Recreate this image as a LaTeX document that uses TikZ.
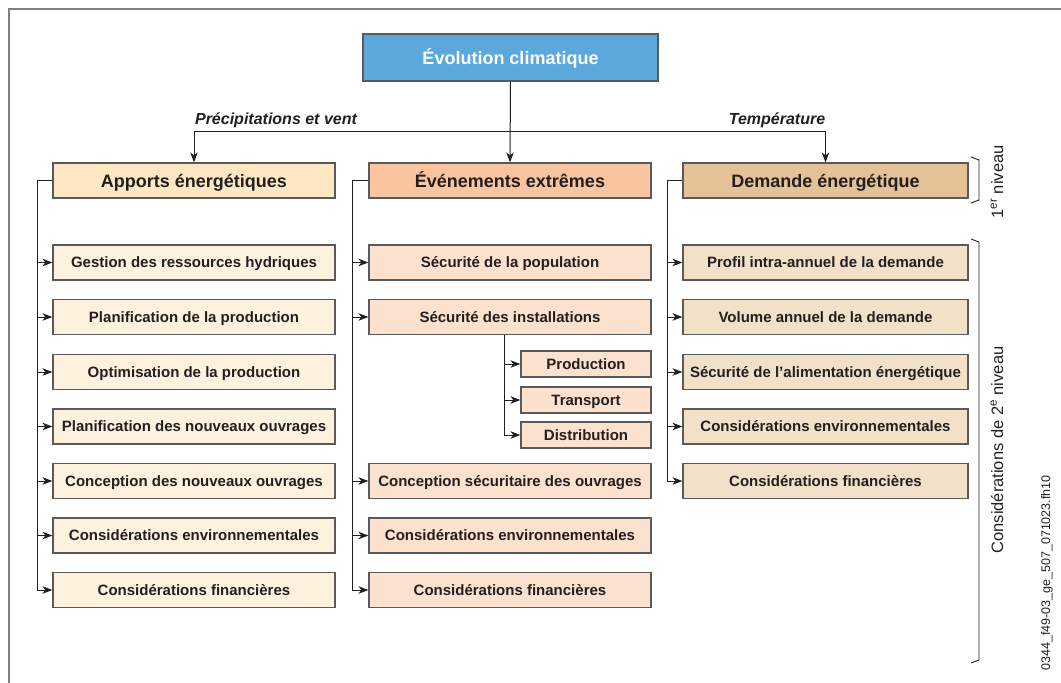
\documentclass[tikz,border=0pt]{standalone}
\usepackage{fontspec}
\setmainfont{Liberation Sans}
\usetikzlibrary{arrows.meta}
\definecolor{ink}{HTML}{231F20}
\definecolor{edge}{HTML}{5A5A5A}
\definecolor{framegray}{HTML}{808080}
\definecolor{topblue}{HTML}{5BA8DC}
\definecolor{appA}{HTML}{FDE8C3}
\definecolor{appB}{HTML}{FEF2DF}
\definecolor{evtA}{HTML}{F9C4A0}
\definecolor{evtB}{HTML}{FDE1CF}
\definecolor{demA}{HTML}{E4C197}
\definecolor{demB}{HTML}{F2E0C9}
\begin{document}
\begin{tikzpicture}[x=1pt,y=-1pt,
    every node/.style={text=ink, inner sep=0pt},
    box/.style={draw=edge, line width=1.2pt, minimum height=35pt, align=center,
      text height=10.8pt, text depth=0pt,
      font=\fontsize{15}{17}\selectfont\bfseries},
    lvlone/.style={box, minimum width=282pt, text height=13pt,
      font=\fontsize{18}{20}\selectfont\bfseries},
    lvltwo/.style={box, minimum width=282pt},
    subbox/.style={box, minimum width=130pt, minimum height=26pt},
    link/.style={draw=ink, line width=1pt},
    arr/.style={link, -{Stealth[length=10pt,width=7.5pt,inset=3pt]}},
    theme/.style={font=\fontsize{16}{18}\selectfont\bfseries\itshape},
    side/.style={rotate=90, font=\fontsize{16.5}{18}\selectfont}]
  \useasboundingbox (0,0) rectangle (1061,683);
  \draw[framegray, line width=2pt] (1061,8.5) -- (8.5,8.5) -- (8.5,683);

  % top
  \node[box, fill=topblue, minimum width=295pt, minimum height=47pt, text=white,
    text height=13pt, font=\fontsize{18}{20}\selectfont\bfseries] (clim) at (510.5,57.5) {Évolution climatique};

  % 1er niveau
  \node[lvlone, fill=appA] (app) at (194,180.5) {Apports énergétiques};
  \node[lvlone, fill=evtA] (evt) at (510,180.5) {Événements extrêmes};
  \node[lvlone, fill=demA, minimum width=285pt] (dem) at (825.5,180.5) {Demande énergétique};

  \coordinate (hub) at (510.5,131);
  \coordinate (hL) at (app.north |- hub);
  \coordinate (hR) at (dem.north |- hub);
  \draw[arr] (clim.south) -- (evt.north);
  \draw[arr] (hub) -- (hL) -- (app.north);
  \draw[arr] (hub) -- (hR) -- (dem.north);
  \node[theme] (pluie) at (276,120) {Précipitations et vent};
  \node[theme] (temp) at (777,120) {Température};

  % apports
  \node[lvltwo, fill=appB] (a1) at (194,262.5) {Gestion des ressources hydriques};
  \node[lvltwo, fill=appB] (a2) at (194,317) {Planification de la production};
  \node[lvltwo, fill=appB] (a3) at (194,372) {Optimisation de la production};
  \node[lvltwo, fill=appB] (a4) at (194,426.5) {Planification des nouveaux ouvrages};
  \node[lvltwo, fill=appB] (a5) at (194,481) {Conception des nouveaux ouvrages};
  \node[lvltwo, fill=appB] (a6) at (194,535.5) {Considérations environnementales};
  \node[lvltwo, fill=appB] (a7) at (194,590) {Considérations financières};

  % evenements
  \node[lvltwo, fill=evtB] (e1) at (510,262.5) {Sécurité de la population};
  \node[lvltwo, fill=evtB] (e2) at (510,317) {Sécurité des installations};
  \node[subbox, fill=evtB] (prod) at (586,364) {Production};
  \node[subbox, fill=evtB] (trans) at (586,400) {Transport};
  \node[subbox, fill=evtB] (dist) at (586,435) {Distribution};
  \node[lvltwo, fill=evtB] (e3) at (510,481) {Conception sécuritaire des ouvrages};
  \node[lvltwo, fill=evtB] (e4) at (510,535.5) {Considérations environnementales};
  \node[lvltwo, fill=evtB] (e5) at (510,590) {Considérations financières};

  % demande
  \node[lvltwo, fill=demB, minimum width=285pt] (d1) at (825.5,262.5) {Profil intra-annuel de la demande};
  \node[lvltwo, fill=demB, minimum width=285pt] (d2) at (825.5,317) {Volume annuel de la demande};
  \node[lvltwo, fill=demB, minimum width=285pt] (d3) at (825.5,372) {Sécurité de l’alimentation énergétique};
  \node[lvltwo, fill=demB, minimum width=285pt] (d4) at (825.5,426.5) {Considérations environnementales};
  \node[lvltwo, fill=demB, minimum width=285pt] (d5) at (825.5,481) {Considérations financières};

  % troncs
  \coordinate (ta) at (37,180.5);
  \draw[arr] (app.west) -- (ta) |- (a7.west);
  \foreach \n in {a1,a2,a3,a4,a5,a6}
    \draw[arr] (ta |- \n.west) -- (\n.west);
  \coordinate (te) at (352.5,180.5);
  \draw[arr] (evt.west) -- (te) |- (e5.west);
  \foreach \n in {e1,e2,e3,e4}
    \draw[arr] (te |- \n.west) -- (\n.west);
  \coordinate (ts) at ([xshift=-6pt]e2.south);
  \draw[arr] (ts) |- (dist.west);
  \foreach \n in {prod,trans}
    \draw[arr] (ts |- \n.west) -- (\n.west);
  \coordinate (td) at (667,180.5);
  \draw[arr] (dem.west) -- (td) |- (d5.west);
  \foreach \n in {d1,d2,d3,d4}
    \draw[arr] (td |- \n.west) -- (\n.west);

  % niveaux
  \draw[link, line width=0.9pt] (971,157) -- (979,160) -- (979,200) -- (971,203);
  \node[side] (niv1) at (997,182) {1\textsuperscript{er} niveau};
  \draw[link, line width=0.9pt] (971,239) -- (979,242) -- (979,660) -- (971,663);
  \node[side] (niv2) at (997,450) {Considérations de 2\textsuperscript{e} niveau};
  \node[rotate=90, font=\fontsize{12.5}{14}\selectfont] (ref) at (1047,573) {0344\_f49-03\_ge\_507\_071023.fh10};
\end{tikzpicture}
\end{document}
